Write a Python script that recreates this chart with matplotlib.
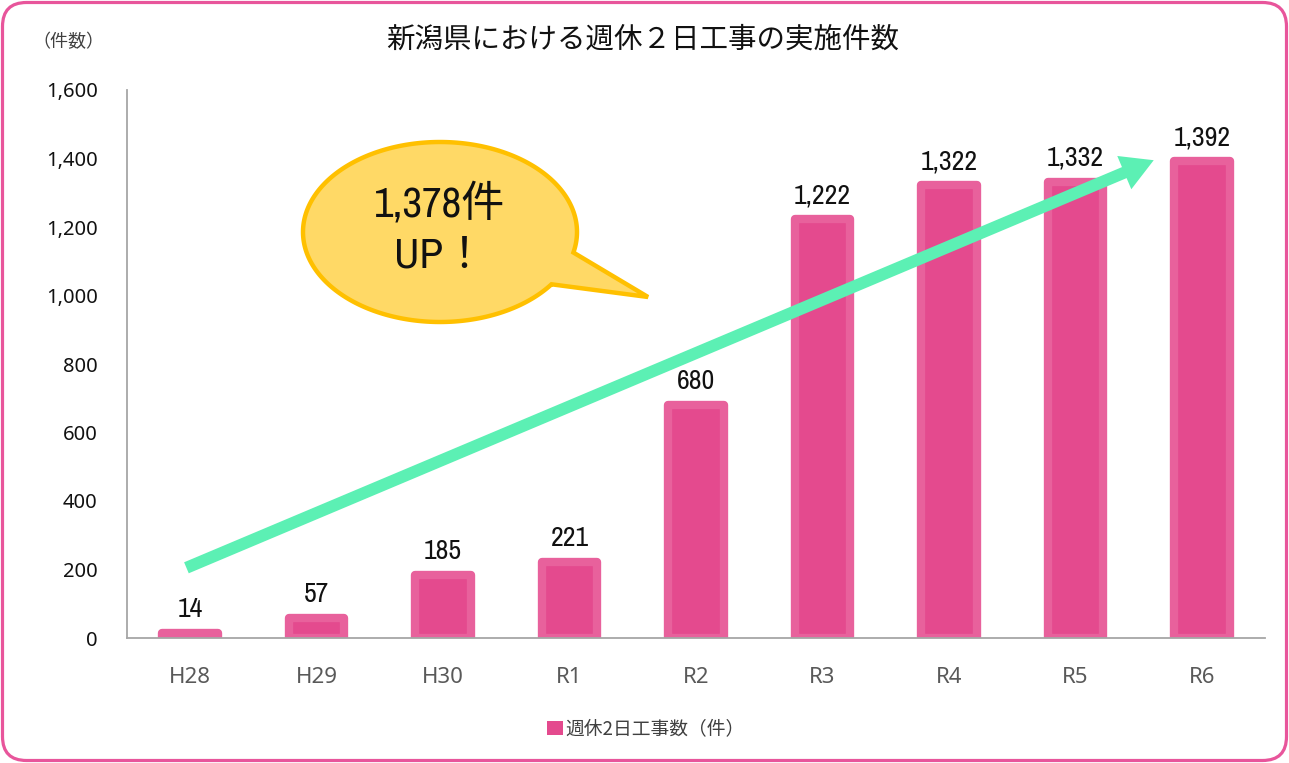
import matplotlib
matplotlib.use("Agg")
import matplotlib.pyplot as plt
import numpy as np
from matplotlib.patches import FancyBboxPatch, PathPatch, FancyArrowPatch, Patch
from matplotlib.path import Path
from matplotlib.transforms import IdentityTransform
from matplotlib import font_manager

# ---- data ----
categories = ["H28", "H29", "H30", "R1", "R2", "R3", "R4", "R5", "R6"]
values = [14, 57, 185, 221, 680, 1222, 1322, 1332, 1392]
y_ticks = [0, 200, 400, 600, 800, 1000, 1200, 1400, 1600]
title = "新潟県における週休２日工事の実施件数"
y_unit = "（件数）"
legend_label = "週休2日工事数（件）"
bubble_lines = ["1,378件", "UP！"]
arrow_start = (-0.03, 205)
arrow_end = (7.62, 1395)

installed = {f.name for f in font_manager.fontManager.ttflist}
narrow_candidates = [n for n in installed if ("Narrow" in n or "Condensed" in n)]
narrow = sorted(narrow_candidates)[0] if narrow_candidates else "Noto Sans CJK JP"
CJK = "Noto Sans CJK JP"
plt.rcParams["font.family"] = [CJK, "DejaVu Sans"]

W, H, DPI = 1289, 763, 100
fig = plt.figure(figsize=(W / DPI, H / DPI), dpi=DPI)
ax = fig.add_axes([127 / W, 1 - 638 / H, (1265 - 127) / W, (638 - 90) / H])

x = np.arange(len(categories))
ax.bar(x, values, width=0.44, color="#E44A8E", edgecolor="#E8619C",
       linewidth=6, joinstyle="round", zorder=2)

for xi, v in zip(x, values):
    ax.annotate(f"{v:,}", (xi, v), xytext=(0, 8), textcoords="offset points",
                ha="center", va="bottom", fontsize=20,
                family=[narrow, CJK], color="#111111", zorder=5)

ax.set_xlim(-0.5, len(categories) - 0.5)
ax.set_ylim(0, 1600)
ax.set_yticks(y_ticks)
ax.set_yticklabels([f"{t:,}" for t in y_ticks], fontsize=14.5, family=["Noto Sans", CJK], color="#111111")
ax.set_xticks(x)
ax.set_xticklabels(categories, fontsize=16, family=["Noto Sans", CJK], color="#595959")
ax.tick_params(axis="both", length=0)
ax.tick_params(axis="y", pad=21)
ax.tick_params(axis="x", pad=21)
for s in ["top", "right"]:
    ax.spines[s].set_visible(False)
ax.spines["left"].set_color("#A6A6A6")
ax.spines["bottom"].set_color("#A6A6A6")
ax.spines["left"].set_linewidth(1.3)
ax.spines["bottom"].set_linewidth(1.3)

# arrow
arr = FancyArrowPatch(arrow_start, arrow_end,
                      arrowstyle="simple,head_length=1.15,head_width=1.3,tail_width=0.43",
                      mutation_scale=20, color="#5CF0B4", lw=0, zorder=4,
                      shrinkA=0, shrinkB=0)
ax.add_patch(arr)

# speech bubble (pixel coords)
cx, cy, a, b = 440, 232, 137, 90
t = np.linspace(0.62, 0.23 + 2 * np.pi, 300)
px = cx + a * np.cos(t)
py = cy + b * np.sin(t)
verts = list(zip(px, H - py)) + [(648, H - 297), (px[0], H - py[0])]
codes = [Path.MOVETO] + [Path.LINETO] * (len(verts) - 2) + [Path.CLOSEPOLY]
bubble = PathPatch(Path(verts, codes), facecolor="#FFD966", edgecolor="#FFC000",
                   linewidth=3.2, transform=IdentityTransform(), zorder=6)
bubble.set_joinstyle("miter")
fig.add_artist(bubble)
fig.text(440 / W, 1 - 203 / H, bubble_lines[0], ha="center", va="center",
         fontsize=31, family=[narrow, CJK], color="#111111", zorder=7)
fig.text(440 / W, 1 - 255 / H, bubble_lines[1], ha="center", va="center",
         fontsize=31, family=[narrow, CJK], color="#111111", zorder=7)

# titles
fig.text(643 / W, 1 - 40 / H, title, ha="center", va="center", fontsize=20.5, color="#111111")
fig.text(68 / W, 1 - 42 / H, y_unit, ha="center", va="center", fontsize=13, color="#404040")

# legend
handle = Patch(facecolor="#E44A8E", edgecolor="none")
fig.legend([handle], [legend_label], loc="center", bbox_to_anchor=(646 / W, 1 - 729 / H),
           frameon=False, fontsize=13.5, handlelength=0.85, handleheight=0.85,
           handletextpad=0.15, labelcolor="#404040")

# figure border
border = FancyBboxPatch((2.5, 2.5), W - 5, H - 5, boxstyle="round,pad=0,rounding_size=24",
                        facecolor="none", edgecolor="#E8559B", linewidth=2.3,
                        transform=IdentityTransform(), zorder=10)
fig.add_artist(border)

fig.savefig("out.png", dpi=DPI)
